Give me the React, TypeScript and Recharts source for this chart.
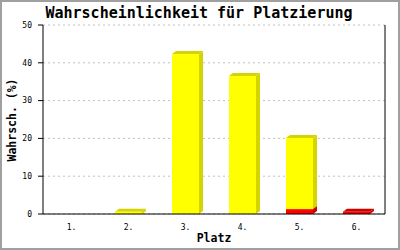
import * as React from "react";
import { BarChart, Bar, XAxis, YAxis, CartesianGrid, Customized } from "recharts";

const places = ["1.", "2.", "3.", "4.", "5.", "6."];
const yellowValues = [0, 0.6, 42.3, 36.5, 18.8, 0];
const redValues = [0, 0, 0, 0, 1.3, 0.6];
const yTicks = [0, 10, 20, 30, 40, 50];

const data = places.map((p, i) => ({ place: p, red: redValues[i], yellow: yellowValues[i] }));

const mono = "'DejaVu Sans Mono', monospace";

function Box3D(props: any) {
  const { x, y, width, height, fill, dark } = props;
  if (!height || height <= 0) return null;
  const dx = 4;
  const dy = 3;
  return (
    <g>
      <polygon
        points={`${x},${y} ${x + dx},${y - dy} ${x + width + dx},${y - dy} ${x + width},${y}`}
        fill={dark}
      />
      <polygon
        points={`${x + width},${y} ${x + width + dx},${y - dy} ${x + width + dx},${y + height - dy} ${x + width},${y + height}`}
        fill={dark}
      />
      <rect x={x} y={y} width={width} height={height} fill={fill} />
    </g>
  );
}

function Labels() {
  return (
    <g>
      <text x={197} y={16} textAnchor="middle" fontFamily={mono} fontWeight="bold" fontSize={15} fill="#000">
        Wahrscheinlichkeit für Platzierung
      </text>
      <text x={212} y={240} textAnchor="middle" fontFamily={mono} fontWeight="bold" fontSize={11.5} fill="#000">
        Platz
      </text>
      <text
        x={14}
        y={118}
        textAnchor="middle"
        fontFamily={mono}
        fontWeight="bold"
        fontSize={11.5}
        fill="#000"
        transform="rotate(-90 14 118)"
      >
        Wahrsch. (%)
      </text>
    </g>
  );
}

export default function App() {
  return (
    <div
      style={{
        position: "absolute",
        left: 0,
        top: 0,
        width: 400,
        height: 250,
        boxSizing: "border-box",
        border: "2px solid #a0a0a0",
        background: "#fff",
      }}
    >
      <BarChart
        width={396}
        height={246}
        data={data}
        margin={{ top: 23, right: 12, bottom: 0, left: 0 }}
        style={{ overflow: "visible" }}
      >
        <CartesianGrid vertical={false} stroke="#c0c0c0" strokeDasharray="2 3" />
        <XAxis
          dataKey="place"
          height={34}
          axisLine={{ stroke: "#000" }}
          tickLine={false}
          tick={{ fontFamily: mono, fontSize: 8, fill: "#000" }}
          tickMargin={4}
        />
        <YAxis
          width={41}
          domain={[0, 50]}
          ticks={yTicks}
          axisLine={{ stroke: "#000" }}
          tickLine={{ stroke: "#000" }}
          tickSize={5}
          tickMargin={6}
          tick={{ fontFamily: mono, fontSize: 8, fill: "#000" }}
        />
        <YAxis
          yAxisId="r"
          orientation="right"
          width={1}
          domain={[0, 50]}
          tick={false}
          tickLine={false}
          axisLine={{ stroke: "#000" }}
        />
        <Bar
          dataKey="red"
          stackId="a"
          barSize={27}
          isAnimationActive={false}
          shape={(p: any) => <Box3D {...p} fill="#ff0000" dark="#cc0000" />}
        />
        <Bar
          dataKey="yellow"
          stackId="a"
          barSize={27}
          isAnimationActive={false}
          shape={(p: any) => <Box3D {...p} fill="#ffff00" dark="#d4d400" />}
        />
        <Customized component={Labels} />
      </BarChart>
    </div>
  );
}
